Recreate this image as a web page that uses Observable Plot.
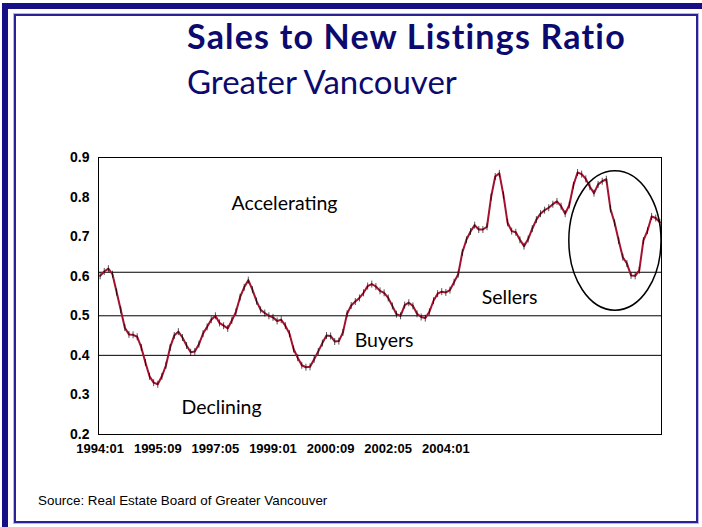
<!DOCTYPE html>
<html>
<head>
<meta charset="utf-8">
<script src="https://cdn.jsdelivr.net/npm/d3@7"></script>
<script src="https://cdn.jsdelivr.net/npm/@observablehq/plot@0.6"></script>
<style>
  html, body { margin: 0; padding: 0; background: #fff; }
  #page { position: relative; width: 702px; height: 527px; overflow: hidden; background: #fff; }
  .band { position: absolute; background: #170f85; }
  #inner { position: absolute; left: 14px; top: 14px; width: 680px; height: 505px;
           border: 2px solid #2a2197; box-shadow: 0 0 0 1px #b9b6e2; }
  #title { position: absolute; left: 187px; top: 15px; font-family: Lato, "Open Sans", sans-serif;
           font-weight: 700; font-size: 34px; letter-spacing: 1.2px; color: #0c0a6e; white-space: nowrap; }
  #subtitle { position: absolute; left: 187px; top: 61px; font-family: Lato, "Open Sans", sans-serif;
           font-weight: 400; font-size: 33px; color: #0c0a6e; white-space: nowrap; }
  #source { position: absolute; left: 38px; top: 493px; font-family: "Liberation Sans", Arial, sans-serif;
           font-size: 13.4px; color: #000; white-space: nowrap; }
  #chart { position: absolute; left: 0; top: 0; }
</style>
</head>
<body>
<div id="page">
  <div class="band" style="left:2px;top:3px;width:700px;height:6px"></div>
  <div class="band" style="left:2px;top:3px;width:6px;height:524px"></div>
  <div id="inner"></div>
  <div id="chart"></div>
  <div id="title">Sales to New Listings Ratio</div>
  <div id="subtitle">Greater Vancouver</div>
  <div id="source">Source: Real Estate Board of Greater Vancouver</div>
</div>
<script>
// Monthly sales-to-new-listings ratio (first point = 1994:01)
const ratio = [
  0.601, 0.612, 0.619, 0.605, 0.560, 0.515, 0.470, 0.453, 0.452, 0.447,
  0.420, 0.382, 0.347, 0.331, 0.327, 0.347, 0.375, 0.420, 0.450, 0.460,
  0.445, 0.425, 0.408, 0.410, 0.428, 0.455, 0.472, 0.490, 0.500, 0.482,
  0.475, 0.468, 0.488, 0.510, 0.547, 0.572, 0.590, 0.566, 0.537, 0.515,
  0.507, 0.500, 0.496, 0.487, 0.490, 0.475, 0.455, 0.416, 0.394, 0.375,
  0.370, 0.371, 0.390, 0.410, 0.431, 0.450, 0.449, 0.435, 0.436, 0.458,
  0.505, 0.526, 0.536, 0.545, 0.558, 0.575, 0.580, 0.574, 0.563, 0.558,
  0.545, 0.525, 0.504, 0.500, 0.527, 0.533, 0.525, 0.505, 0.497, 0.494,
  0.510, 0.538, 0.556, 0.561, 0.559, 0.565, 0.585, 0.605, 0.660, 0.692,
  0.713, 0.729, 0.718, 0.718, 0.725, 0.800, 0.852, 0.860, 0.805, 0.735,
  0.714, 0.711, 0.692, 0.676, 0.694, 0.720, 0.743, 0.758, 0.767, 0.773,
  0.782, 0.789, 0.777, 0.758, 0.780, 0.830, 0.862, 0.858, 0.846, 0.826,
  0.810, 0.832, 0.840, 0.845, 0.770, 0.735, 0.690, 0.648, 0.632, 0.602,
  0.601, 0.615, 0.690, 0.715, 0.751, 0.747, 0.736
];
const xTickLabels = ["1994:01", "1995:09", "1997:05", "1999:01", "2000:09", "2002:05", "2004:01"];
const labelEvery = 14;
const yTicks = [0.2, 0.3, 0.4, 0.5, 0.6, 0.7, 0.8, 0.9];
const refLines = [0.4, 0.5, 0.61];
const zoneLabels = [
  {text: "Accelerating", i: 44.8, v: 0.784},
  {text: "Sellers", i: 99.5, v: 0.546},
  {text: "Buyers", i: 69, v: 0.437},
  {text: "Declining", i: 29.5, v: 0.267}
];
// highlighted period (circled): month-index range and ratio range
const highlight = {i0: 114, i1: 136.4, v0: 0.513, v1: 0.865};

const data = ratio.map((v, i) => ({i, v}));
const tickIdx = xTickLabels.map((_, k) => k * labelEvery);

const vbar = {
  draw(ctx, size) {
    const r = Math.sqrt(size / Math.PI);
    ctx.moveTo(0, -r); ctx.lineTo(0, r);
  }
};

const ellipseMark = (index, scales) => {
  const cx = (scales.x(highlight.i0) + scales.x(highlight.i1)) / 2;
  const cy = (scales.y(highlight.v0) + scales.y(highlight.v1)) / 2;
  const rx = Math.abs(scales.x(highlight.i1) - scales.x(highlight.i0)) / 2;
  const ry = Math.abs(scales.y(highlight.v1) - scales.y(highlight.v0)) / 2;
  const e = document.createElementNS("http://www.w3.org/2000/svg", "ellipse");
  e.setAttribute("cx", cx); e.setAttribute("cy", cy);
  e.setAttribute("rx", rx); e.setAttribute("ry", ry);
  e.setAttribute("fill", "none"); e.setAttribute("stroke", "#000"); e.setAttribute("stroke-width", 1.5);
  const g = document.createElementNS("http://www.w3.org/2000/svg", "g");
  g.appendChild(e);
  return g;
};

const chart = Plot.plot({
  width: 702,
  height: 527,
  marginLeft: 98,
  marginRight: 41,
  marginTop: 157,
  marginBottom: 93,
  style: {background: "transparent", overflow: "visible"},
  x: {type: "linear", domain: [-0.4, 136.4], label: null},
  y: {domain: [0.2, 0.9], label: null},
  marks: [
    Plot.ruleY(refLines, {stroke: "#000", strokeWidth: 1}),
    Plot.frame({stroke: "#000", strokeWidth: 1}),
    Plot.axisY({ticks: yTicks, tickSize: 0, tickPadding: 9, tickFormat: d3.format(".1f"),
      fontFamily: "Liberation Sans, Arial, sans-serif", fontWeight: "bold", fontSize: 14, fill: "#000", label: null}),
    Plot.axisX({ticks: tickIdx, tickSize: 0, tickPadding: 9, tickFormat: (d) => xTickLabels[Math.round(d / labelEvery)],
      fontFamily: "Liberation Sans, Arial, sans-serif", fontWeight: "bold", fontSize: 13, fill: "#000", label: null}),
    Plot.line(data, {x: "i", y: "v", stroke: "#a3112f", strokeWidth: 2}),
    Plot.dot(data, {x: "i", y: "v", symbol: vbar, r: 3.5, stroke: "#000", strokeWidth: 0.8, strokeOpacity: 0.85}),
    Plot.text(zoneLabels, {x: "i", y: "v", text: "text", fontFamily: "Lato, Open Sans, sans-serif", fontSize: 19.5, fill: "#000"}),
    ellipseMark
  ]
});
document.getElementById("chart").appendChild(chart);
</script>
</body>
</html>
